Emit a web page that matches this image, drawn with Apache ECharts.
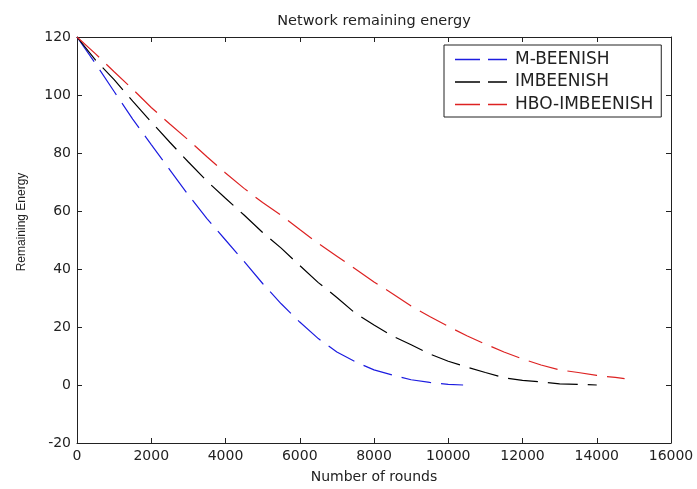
<!DOCTYPE html>
<html>
<head>
<meta charset="utf-8">
<script src="https://cdn.jsdelivr.net/npm/echarts@6/dist/echarts.min.js"></script>
<style>
  html, body { margin: 0; padding: 0; background: #fff; }
  #chart { width: 697px; height: 489px; }
</style>
</head>
<body>
<div id="chart"></div>
<script>
// rounds / remaining energy
const roundsMB = [0, 500, 1000, 1500, 2000, 2500, 3000, 3500, 4000, 4500, 5000, 5500, 6000, 6500, 7000, 7500, 8000, 8500, 9000, 9500, 10000, 10400];
const energyMB = [120, 110.8, 101.2, 91.7, 82.9, 74.2, 65.5, 57.4, 50, 42.6, 35, 28, 21.7, 16, 11.4, 8, 5.2, 3.4, 1.8, 0.9, 0.2, 0];

const roundsIM = [0, 500, 1000, 1500, 2000, 2500, 3000, 3500, 4000, 4500, 5000, 5500, 6000, 6500, 7000, 7500, 8000, 8500, 9000, 9500, 10000, 10500, 11000, 11500, 12000, 12500, 13000, 13500, 14000];
const energyIM = [120, 112, 105.3, 97.9, 90.7, 83.7, 76.9, 70.3, 64.4, 58.6, 52.6, 47.2, 41.2, 35.3, 30.2, 24.7, 20.7, 16.9, 13.9, 10.7, 8.2, 6.2, 4.3, 2.5, 1.6, 1.1, 0.4, 0.2, 0];

const roundsHBO = [0, 500, 1000, 1500, 2000, 2500, 3000, 3500, 4000, 4500, 5000, 5500, 6000, 6500, 7000, 7500, 8000, 8500, 9000, 9500, 10000, 10500, 11000, 11500, 12000, 12500, 13000, 13500, 14000, 14500, 14750];
const energyHBO = [120, 114.2, 108, 102, 95.7, 90, 84.5, 78.7, 73.1, 67.8, 62.9, 58.5, 53.6, 48.8, 44.4, 40, 35.5, 31.5, 27.2, 23.6, 20.2, 17, 14.1, 11.4, 9, 6.9, 5.2, 4.3, 3.3, 2.6, 2.2];

const seriesNames = ['M-BEENISH', 'IMBEENISH', 'HBO-IMBEENISH'];

const pairs = (xs, ys) => xs.map((x, i) => [x, ys[i]]);

const chart = echarts.init(document.getElementById('chart'), null, { renderer: 'canvas' });

const axisColor = '#222';
const font = 'DejaVu Sans';
// two dashes, as in the legend of the figure
const dashIcon = 'path://M0,0H25V1.3H0ZM33,0H52V1.3H33Z';

const dashed = (color) => ({
  type: 'line',
  symbol: 'none',
  showSymbol: false,
  smooth: false,
  lineStyle: { color: color, width: 1.2, type: [30, 10] },
  itemStyle: { color: color },
  z: 3
});

const axisCommon = {
  type: 'value',
  axisLine: { show: true, onZero: false, lineStyle: { color: axisColor, width: 1 } },
  axisTick: { show: true, inside: true, length: 5, lineStyle: { color: axisColor } },
  splitLine: { show: false }
};

const option = {
  backgroundColor: '#fff',
  animation: false,
  title: {
    text: 'Network remaining energy',
    left: 374,
    textAlign: 'center',
    top: 14,
    padding: 0,
    textStyle: { fontFamily: font, fontSize: 14.5, fontWeight: 'normal', color: axisColor }
  },
  legend: {
    orient: 'vertical',
    left: 444,
    top: 45,
    padding: [6, 8, 4, 11],
    itemWidth: 52,
    itemHeight: 14,
    itemGap: 5.5,
    icon: dashIcon,
    itemStyle: { borderWidth: 0 },
    borderColor: axisColor,
    borderWidth: 1,
    backgroundColor: '#fff',
    textStyle: { fontFamily: font, fontSize: 17, color: axisColor, lineHeight: 16, padding: [0, 0, 0, 3] },
    data: seriesNames
  },
  grid: { left: 77, right: 26, top: 37, bottom: 46 },
  xAxis: [
    Object.assign({}, axisCommon, {
      min: 0, max: 16000, interval: 2000,
      name: 'Number of rounds',
      nameLocation: 'middle',
      nameGap: 27,
      nameTextStyle: { fontFamily: font, fontSize: 14, color: axisColor },
      axisLabel: { margin: 6, fontFamily: font, fontSize: 14, color: axisColor, formatter: (v) => String(v) }
    }),
    Object.assign({}, axisCommon, {
      position: 'top',
      min: 0, max: 16000, interval: 2000,
      axisLabel: { show: false }
    })
  ],
  yAxis: [
    Object.assign({}, axisCommon, {
      min: -20, max: 120, interval: 20,
      name: 'Remaining Energy',
      nameLocation: 'middle',
      nameGap: 49,
      nameTextStyle: { fontFamily: 'Liberation Sans', fontSize: 12, color: axisColor, padding: [0, 0, 0, 36] },
      axisLabel: { margin: 6, fontFamily: font, fontSize: 14, color: axisColor }
    }),
    Object.assign({}, axisCommon, {
      position: 'right',
      min: -20, max: 120, interval: 20,
      axisLabel: { show: false }
    })
  ],
  series: [
    Object.assign(dashed('#1c1ce0'), { name: seriesNames[0], data: pairs(roundsMB, energyMB) }),
    Object.assign(dashed('#000000'), { name: seriesNames[1], data: pairs(roundsIM, energyIM) }),
    Object.assign(dashed('#dd2222'), { name: seriesNames[2], data: pairs(roundsHBO, energyHBO) })
  ]
};

chart.setOption(option);
window.addEventListener('resize', chart.resize);
</script>
</body>
</html>
